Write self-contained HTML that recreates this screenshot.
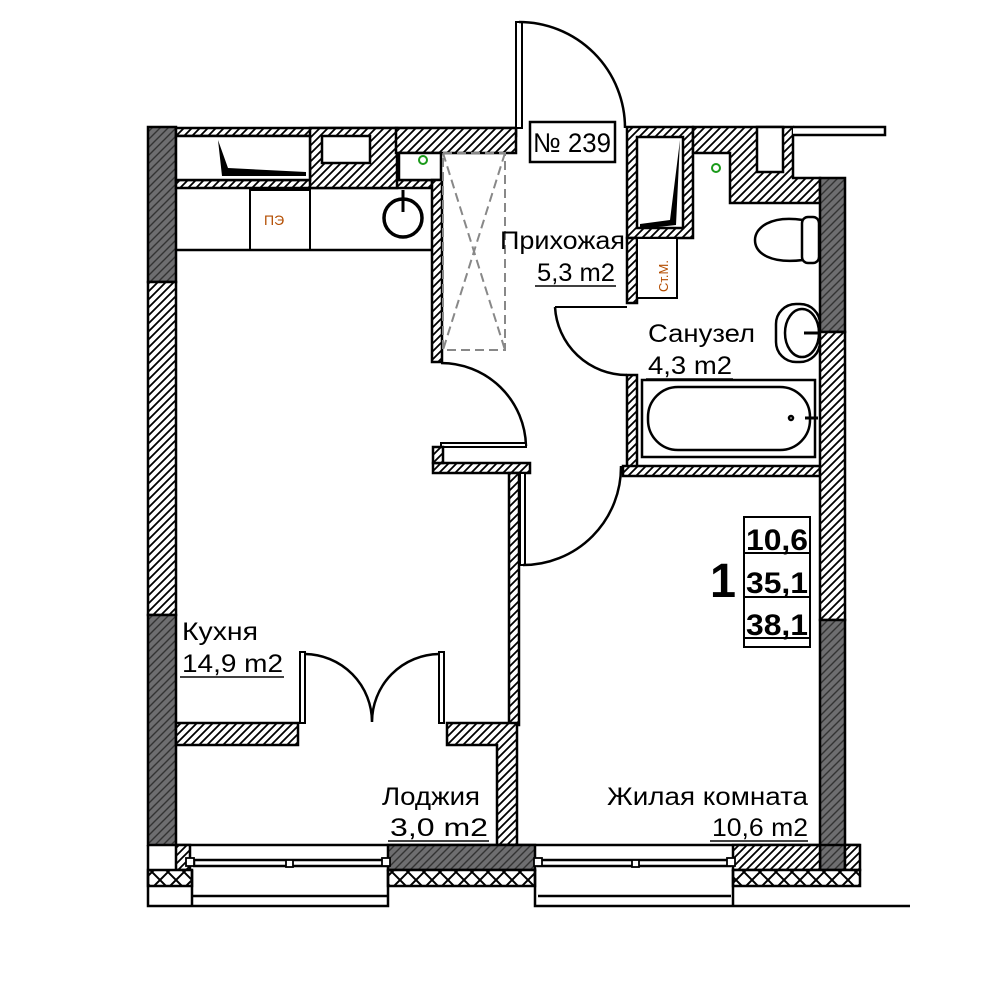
<!DOCTYPE html>
<html><head><meta charset="utf-8"><style>
html,body{margin:0;padding:0;background:#fff}
svg{display:block}
text{font-family:"Liberation Sans","DejaVu Sans",sans-serif}
</style></head><body>
<svg width="1000" height="1000" viewBox="0 0 1000 1000" xmlns="http://www.w3.org/2000/svg">
<defs>
<pattern id="h" patternUnits="userSpaceOnUse" width="8" height="8">
<rect width="8" height="8" fill="#fff"/>
<path d="M-2,10 L10,-2 M-2,2 L2,-2 M6,10 L10,6" stroke="#000" stroke-width="1.8"/>
</pattern>
<pattern id="d" patternUnits="userSpaceOnUse" width="8" height="8">
<rect width="8" height="8" fill="#6e6e70"/>
<path d="M-2,10 L10,-2 M-2,2 L2,-2 M6,10 L10,6" stroke="#333" stroke-width="1.4"/>
</pattern>
<pattern id="x" patternUnits="userSpaceOnUse" width="16" height="16">
<rect width="16" height="16" fill="#fff"/>
<path d="M0,0 L16,16 M16,0 L0,16" stroke="#000" stroke-width="2"/>
</pattern>
</defs>
<g stroke="#000" stroke-width="2.5">
<rect x="148" y="127" width="28" height="155" fill="url(#d)"/>
<rect x="148" y="282" width="28" height="333" fill="url(#h)"/>
<rect x="148" y="615" width="28" height="230" fill="url(#d)"/>
<rect x="176" y="128" width="340" height="8" fill="url(#h)"/>
<rect x="176" y="180" width="256" height="8" fill="url(#h)"/>
<rect x="310" y="128" width="87" height="60" fill="url(#h)"/>
<rect x="322" y="136" width="48" height="27" fill="#fff"/>
<rect x="396" y="128" width="120" height="25" fill="url(#h)"/>
<rect x="176" y="136" width="134" height="44" fill="#fff"/>
<rect x="399" y="153" width="42" height="27" fill="#fff"/>
</g>
<polygon points="218,140 222,176 306,176 306,172 228,168" fill="#000"/>
<circle cx="423" cy="160" r="4" fill="none" stroke="#1a9a1a" stroke-width="2"/>
<g stroke="#000" stroke-width="2.5" fill="none">
<path d="M176,250 L432,250"/>
<rect x="250" y="190" width="60" height="60" stroke-width="2"/>
<circle cx="403" cy="218" r="19" stroke-width="3.5"/>
<path d="M403,190 L403,212" stroke-width="3"/>
</g>
<text x="264" y="225" font-size="14" fill="#b34d00">ПЭ</text>
<rect x="432" y="180" width="10" height="182" fill="url(#h)" stroke="#000" stroke-width="2.5"/>
<rect x="443" y="153" width="62" height="197" fill="none" stroke="#888" stroke-width="2" stroke-dasharray="9,5"/>
<path d="M443,153 L505,350 M505,153 L443,350" stroke="#888" stroke-width="2" stroke-dasharray="9,5"/>
<path d="M441,363 A85,85 0 0 1 526,446" fill="none" stroke="#000" stroke-width="2.5"/>
<rect x="441" y="443" width="85" height="4" fill="#fff" stroke="#000" stroke-width="2"/>
<rect x="433" y="463" width="97" height="10" fill="url(#h)" stroke="#000" stroke-width="2.5"/>
<rect x="433" y="447" width="10" height="16" fill="url(#h)" stroke="#000" stroke-width="2.5"/>
<rect x="509" y="473" width="10" height="252" fill="url(#h)" stroke="#000" stroke-width="2.5"/>
<rect x="520" y="473" width="5" height="92" fill="#fff" stroke="#000" stroke-width="2"/>
<path d="M523,565 A98,98 0 0 0 621,466" fill="none" stroke="#000" stroke-width="2.5"/>
<rect x="516" y="22" width="6" height="106" fill="#fff" stroke="#000" stroke-width="2"/>
<path d="M519,22 A106,106 0 0 1 625,128" fill="none" stroke="#000" stroke-width="2.5"/>
<rect x="530" y="122" width="85" height="40" fill="#fff" stroke="#000" stroke-width="2.5"/>
<text x="533" y="152" font-size="27" textLength="78" lengthAdjust="spacingAndGlyphs">№ 239</text>
<g stroke="#000" stroke-width="2.5">
<rect x="627" y="127" width="66" height="111" fill="url(#h)"/>
<rect x="637" y="137" width="46" height="91" fill="#fff"/>
<path d="M693,127 L793,127 L793,178 L820,178 L820,203 L730,203 L730,153 L693,153 Z" fill="url(#h)"/>
<rect x="757" y="127" width="26" height="45" fill="#fff"/>
<path d="M793,127 L885,127 L885,135 L793,135" fill="#fff"/>
<rect x="627" y="238" width="10" height="65" fill="url(#h)"/>
<rect x="637" y="238" width="40" height="60" fill="#fff" stroke-width="2"/>
<rect x="627" y="375" width="10" height="95" fill="url(#h)"/>
<rect x="623" y="466" width="197" height="10" fill="url(#h)"/>
</g>
<polygon points="680,140 676,225 640,229 640,224 670,220" fill="#000"/>
<circle cx="716" cy="168" r="4" fill="none" stroke="#1a9a1a" stroke-width="2"/>
<text transform="translate(668,292) rotate(-90)" font-size="13" fill="#b34d00">Ст.М.</text>
<path d="M555,307 A72,72 0 0 0 627,375" fill="none" stroke="#000" stroke-width="2.5"/>
<path d="M555,307 L627,307" stroke="#000" stroke-width="2"/>
<g fill="#fff" stroke="#000" stroke-width="2.5">
<path d="M803,220 C770,215 755,228 755,240 C755,254 772,264 803,260 Z"/>
<rect x="802" y="217" width="17" height="46" rx="6"/>
<rect x="776" y="304" width="44" height="58" rx="20"/>
<ellipse cx="802" cy="333" rx="17" ry="24"/>
<rect x="642" y="380" width="173" height="77"/>
<rect x="648" y="387" width="162" height="63" rx="30"/>
<circle cx="791" cy="418" r="2"/>
</g>
<path d="M804,333 L818,333 M805,418 L818,418" stroke="#000" stroke-width="3"/>
<g stroke="#000" stroke-width="2.5">
<rect x="820" y="178" width="25" height="154" fill="url(#d)"/>
<rect x="820" y="332" width="25" height="288" fill="url(#h)"/>
<rect x="820" y="620" width="25" height="250" fill="url(#d)"/>
</g>
<g stroke="#000" stroke-width="2.5">
<rect x="176" y="723" width="122" height="22" fill="url(#h)"/>
<path d="M447,723 L517,723 L517,845 L497,845 L497,745 L447,745 Z" fill="url(#h)"/>
</g>
<rect x="300" y="652" width="5" height="71" fill="#fff" stroke="#000" stroke-width="2"/>
<rect x="439" y="652" width="5" height="71" fill="#fff" stroke="#000" stroke-width="2"/>
<path d="M305,654 A68,68 0 0 1 372,722 M439,654 A68,68 0 0 0 372,722" fill="none" stroke="#000" stroke-width="2.5"/>
<g stroke="#000" stroke-width="2.5">
<path d="M176,845 L860,845" fill="none"/>
<rect x="176" y="845" width="14" height="25" fill="url(#h)"/>
<rect x="388" y="845" width="147" height="25" fill="url(#d)"/>
<rect x="733" y="845" width="87" height="25" fill="url(#h)"/>
<rect x="845" y="845" width="15" height="25" fill="url(#h)"/>
<rect x="148" y="870" width="44" height="16" fill="url(#x)"/>
<rect x="388" y="870" width="147" height="16" fill="url(#x)"/>
<rect x="733" y="870" width="127" height="16" fill="url(#x)"/>
<path d="M148,845 L148,906 L192,906 M192,870 L192,906 L388,906 L388,870 M193,896 L388,896 M535,870 L535,906 L733,906 L733,870 M538,896 L731,896 M733,906 L910,906" fill="none"/>
<rect x="194" y="860" width="192" height="6" fill="#fff"/>
<rect x="538" y="860" width="192" height="6" fill="#fff"/>
</g>
<g fill="#fff" stroke="#000" stroke-width="1.8">
<rect x="186" y="858" width="8" height="8"/><rect x="286" y="860" width="7" height="7"/><rect x="382" y="858" width="8" height="8"/>
<rect x="534" y="858" width="8" height="8"/><rect x="632" y="860" width="7" height="7"/><rect x="727" y="858" width="8" height="8"/>
</g>
<g stroke="#000" stroke-width="2" fill="none">
<rect x="744" y="517" width="66" height="130"/>
<path d="M744,553 L810,553 M744,597 L810,597 M744,638 L810,638"/>
</g>
<g font-weight="bold" font-size="30">
<text x="746" y="550" textLength="62" lengthAdjust="spacingAndGlyphs">10,6</text>
<text x="746" y="593" textLength="62" lengthAdjust="spacingAndGlyphs">35,1</text>
<text x="746" y="635" textLength="62" lengthAdjust="spacingAndGlyphs">38,1</text>
</g>
<text x="710" y="597" font-size="48" font-weight="bold" textLength="26" lengthAdjust="spacingAndGlyphs">1</text>
<g font-size="25" fill="#000">
<text x="500" y="249" textLength="125" lengthAdjust="spacingAndGlyphs">Прихожая</text>
<text x="537" y="281" textLength="78" lengthAdjust="spacingAndGlyphs">5,3 m2</text>
<text x="648" y="342" textLength="107" lengthAdjust="spacingAndGlyphs">Санузел</text>
<text x="648" y="374" textLength="84" lengthAdjust="spacingAndGlyphs">4,3 m2</text>
<text x="182" y="640" textLength="76" lengthAdjust="spacingAndGlyphs">Кухня</text>
<text x="182" y="672" textLength="101" lengthAdjust="spacingAndGlyphs">14,9 m2</text>
<text x="382" y="805" textLength="98" lengthAdjust="spacingAndGlyphs">Лоджия</text>
<text x="390" y="836" textLength="98" lengthAdjust="spacingAndGlyphs">3,0 m2</text>
<text x="607" y="805" textLength="201" lengthAdjust="spacingAndGlyphs">Жилая комната</text>
<text x="712" y="836" textLength="96" lengthAdjust="spacingAndGlyphs">10,6 m2</text>
</g>
<g stroke="#000" stroke-width="1.5">
<path d="M535,286 L616,286 M646,379 L733,379 M180,677 L284,677 M388,841 L489,841 M710,841 L808,841"/>
</g>
</svg>
</body></html>
